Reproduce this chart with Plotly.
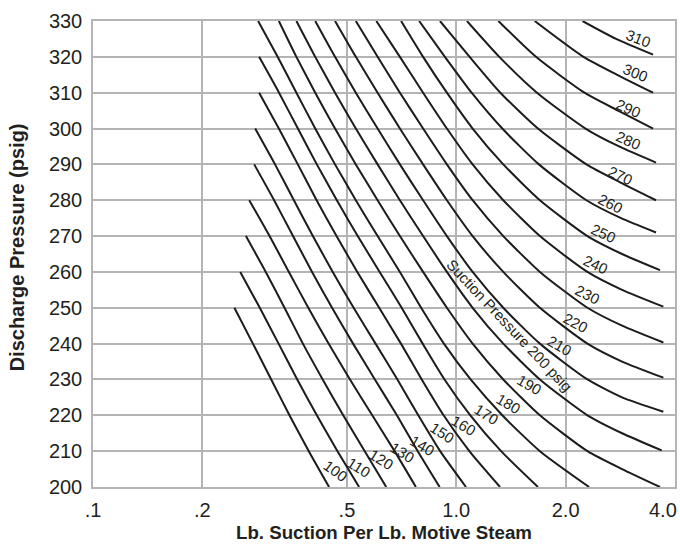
import numpy as np
import plotly.graph_objects as go

# Suction pressure (psig) of each performance curve
suction = [100, 110, 120, 130, 140, 150, 160, 170, 180, 190, 200,
           210, 220, 230, 240, 250, 260, 270, 280, 290, 300, 310]

# Lb. suction per lb. motive steam (x) and discharge pressure (y) along each curve
ratio_100 = [0.245, 0.2755, 0.3094, 0.3474, 0.3927, 0.4466]
disch_100 = [250, 240, 230, 220, 210, 200]

ratio_110 = [0.2543, 0.2878, 0.3242, 0.3649, 0.4132, 0.4710, 0.5401]
disch_110 = [260, 250, 240, 230, 220, 210, 200]

ratio_120 = [0.2636, 0.2989, 0.3366, 0.3782, 0.4288, 0.4884, 0.5598, 0.6414]
disch_120 = [270, 260, 250, 240, 230, 220, 210, 200]

ratio_130 = [0.2692, 0.3062, 0.3461, 0.3914, 0.4451, 0.5098, 0.5871, 0.6764, 0.7741]
disch_130 = [280, 270, 260, 250, 240, 230, 220, 210, 200]

ratio_140 = [0.2778, 0.3152, 0.3553, 0.4009, 0.4550, 0.5198, 0.5970, 0.6863, 0.7834, 0.9000]
disch_140 = [290, 280, 270, 260, 250, 240, 230, 220, 210, 200]

ratio_150 = [0.2795, 0.3170, 0.3573, 0.4029, 0.4570, 0.5217, 0.5994, 0.6885, 0.7860,
             0.9028, 1.0634]
disch_150 = [300, 290, 280, 270, 260, 250, 240, 230, 220, 210, 200]

ratio_160 = [0.2866, 0.3248, 0.3663, 0.4126, 0.4681, 0.5340, 0.6134, 0.7042, 0.8034,
             0.9228, 1.0864, 1.3195]
disch_160 = [310, 300, 290, 280, 270, 260, 250, 240, 230, 220, 210, 200]

ratio_170 = [0.2866, 0.3251, 0.3664, 0.4132, 0.4690, 0.5353, 0.6153, 0.7073, 0.8080,
             0.9281, 1.0931, 1.3287, 1.6781]
disch_170 = [320, 310, 300, 290, 280, 270, 260, 250, 240, 230, 220, 210, 200]

ratio_180 = [0.2848, 0.3223, 0.3630, 0.4090, 0.4637, 0.5290, 0.6073, 0.6995, 0.8003,
             0.9246, 1.0952, 1.3387, 1.6990, 2.3213]
disch_180 = [330, 320, 310, 300, 290, 280, 270, 260, 250, 240, 230, 220, 210, 200]

ratio_190 = [0.3248, 0.3630, 0.4090, 0.4637, 0.5290, 0.6073, 0.6995, 0.8103, 0.9422,
             1.1092, 1.3470, 1.6990, 2.2962, 2.8600, 3.6376]
disch_190 = [330, 320, 310, 300, 290, 280, 270, 260, 250, 240, 230, 220, 210, 205, 200]

ratio_200 = [0.3630, 0.4090, 0.4637, 0.5290, 0.6073, 0.6995, 0.8103, 0.9422, 1.1092,
             1.3470, 1.6990, 2.2962, 2.8600, 3.6765]
disch_200 = [330, 320, 310, 300, 290, 280, 270, 260, 250, 240, 230, 220, 215, 210.2]

ratio_210 = [0.4090, 0.4637, 0.5290, 0.6073, 0.6995, 0.8103, 0.9422, 1.1092, 1.3470,
             1.6990, 2.2962, 2.8600, 3.7154]
disch_210 = [330, 320, 310, 300, 290, 280, 270, 260, 250, 240, 230, 225, 221]

ratio_220 = [0.4637, 0.5290, 0.6073, 0.6995, 0.8103, 0.9422, 1.1092, 1.3470, 1.6990,
             2.2962, 2.8600, 3.7154]
disch_220 = [330, 320, 310, 300, 290, 280, 270, 260, 250, 240, 235, 230.5]

ratio_230 = [0.5290, 0.6073, 0.6995, 0.8103, 0.9422, 1.1092, 1.3470, 1.6990, 2.2962,
             2.8600, 3.7154]
disch_230 = [330, 320, 310, 300, 290, 280, 270, 260, 250, 245, 240.3]

ratio_240 = [0.6024, 0.6995, 0.8103, 0.9422, 1.1092, 1.3470, 1.6990, 2.2962, 2.8600, 3.7154]
disch_240 = [330, 320, 310, 300, 290, 280, 270, 260, 255, 250.3]

ratio_250 = [0.7048, 0.8103, 0.9422, 1.1092, 1.3470, 1.6990, 2.2962, 2.8600, 3.6376]
disch_250 = [330, 320, 310, 300, 290, 280, 270, 265, 260.5]

ratio_260 = [0.7903, 0.9304, 1.1020, 1.3387, 1.6886, 2.2818, 2.8427, 3.5469]
disch_260 = [330, 320, 310, 300, 290, 280, 275, 271]

ratio_270 = [0.9016, 1.0884, 1.3222, 1.6781, 2.2818, 2.8249, 3.5469]
disch_270 = [330, 320, 310, 300, 290, 285, 280]

ratio_280 = [1.0700, 1.3137, 1.6676, 2.2679, 2.8068, 3.5469]
disch_280 = [330, 320, 310, 300, 295, 290.5]

ratio_290 = [1.3056, 1.6569, 2.2535, 2.7890, 3.4814]
disch_290 = [330, 320, 310, 305, 300]

ratio_300 = [1.6437, 2.2391, 2.7721, 3.4814]
disch_300 = [330, 320, 315, 310]

ratio_310 = [2.2254, 2.7548, 3.4814]
disch_310 = [330, 325, 320.6]

curves = {
    100: (ratio_100, disch_100), 110: (ratio_110, disch_110),
    120: (ratio_120, disch_120), 130: (ratio_130, disch_130),
    140: (ratio_140, disch_140), 150: (ratio_150, disch_150),
    160: (ratio_160, disch_160), 170: (ratio_170, disch_170),
    180: (ratio_180, disch_180), 190: (ratio_190, disch_190),
    200: (ratio_200, disch_200), 210: (ratio_210, disch_210),
    220: (ratio_220, disch_220), 230: (ratio_230, disch_230),
    240: (ratio_240, disch_240), 250: (ratio_250, disch_250),
    260: (ratio_260, disch_260), 270: (ratio_270, disch_270),
    280: (ratio_280, disch_280), 290: (ratio_290, disch_290),
    300: (ratio_300, disch_300), 310: (ratio_310, disch_310),
}

# Curve label placement (in axis units) and rotation, one per suction pressure
label_ratio = [0.4637, 0.5401, 0.6228, 0.7117, 0.8068, 0.9147, 1.0481, 1.2131, 1.3902,
               1.5860, 1.4030, 1.9226, 2.1232, 2.2962, 2.4196, 2.5500, 2.6580, 2.8300,
               2.9830, 2.9830, 3.1088, 3.1761]
label_discharge = [204.5, 205.5, 207.8, 209.7, 211.6, 215.3, 217.1, 220.3, 223.3, 228.6,
                   245.1, 239.4, 245.8, 253.7, 262.0, 270.8, 279.1, 287.0, 296.8, 305.7,
                   315.7, 325.2]
label_angle = [36, 32, 32, 32, 30, 33, 31, 32, 30, 30,
               46.7, 29, 28, 27, 25, 25, 27, 25, 24, 24, 22, 21]

# Axis ticks
x_tickvals = [0.1, 0.2, 0.5, 1.0, 2.0, 4.0]
x_ticktext = [".1", ".2", ".5", "1.0", "2.0", "4.0"]
y_tickvals = list(range(200, 331, 10))

FONT = "Liberation Sans, Arial, Helvetica, sans-serif"
INK = "#231f20"
GRID = "#b4b4b4"

fig = go.Figure()

for s in suction:
    r, d = curves[s]
    fig.add_trace(go.Scatter(
        x=r, y=d, mode="lines",
        line=dict(color="#1c1c1c", width=2, shape="spline", smoothing=0.6),
        hoverinfo="skip", showlegend=False,
    ))

for s, lx, ly, ang in zip(suction, label_ratio, label_discharge, label_angle):
    text = f"Suction Pressure {s} psig" if s == 200 else str(s)
    fig.add_annotation(
        x=np.log10(lx), y=ly, xref="x", yref="y", text=text, textangle=ang,
        showarrow=False, font=dict(family=FONT, size=15, color=INK),
    )

# The last x tick label sits flush with the right edge of the figure
fig.add_annotation(
    x=np.log10(x_tickvals[-1]), y=0, xref="x", yref="paper",
    text=x_ticktext[-1], showarrow=False, xanchor="right", yanchor="top",
    xshift=4, yshift=-10, font=dict(family=FONT, size=20, color=INK),
)

# Axis titles
fig.add_annotation(
    x=0.5, y=-0.098, xref="paper", yref="paper", xanchor="center", yanchor="middle",
    text="<b>Lb. Suction Per Lb. Motive Steam</b>", showarrow=False,
    font=dict(family=FONT, size=18.7, color=INK),
)
fig.add_annotation(
    x=-0.13, y=0.515, xref="paper", yref="paper", xanchor="center", yanchor="middle",
    text="<b>Discharge Pressure (psig)</b>", textangle=-90, showarrow=False,
    font=dict(family=FONT, size=20, color=INK),
)

fig.update_xaxes(
    type="log", range=[np.log10(0.1), np.log10(4.0)],
    tickvals=x_tickvals, ticktext=x_ticktext[:-1] + [""],
    showgrid=True, gridcolor=GRID, gridwidth=1.5,
    showline=True, linecolor=GRID, linewidth=1.5, mirror=True,
    ticks="", zeroline=False, ticklabelstandoff=4,
    tickfont=dict(family=FONT, size=20, color=INK),
)
fig.update_yaxes(
    range=[200, 330], tickvals=y_tickvals,
    showgrid=True, gridcolor=GRID, gridwidth=1.5,
    showline=True, linecolor=GRID, linewidth=1.5, mirror=True,
    ticks="", zeroline=False, ticklabelstandoff=5,
    tickfont=dict(family=FONT, size=20, color=INK),
)

fig.update_layout(
    width=680, height=554,
    margin=dict(l=93, r=3, t=21, b=67),
    paper_bgcolor="white", plot_bgcolor="white",
    showlegend=False,
)

fig.write_html("out.html")
